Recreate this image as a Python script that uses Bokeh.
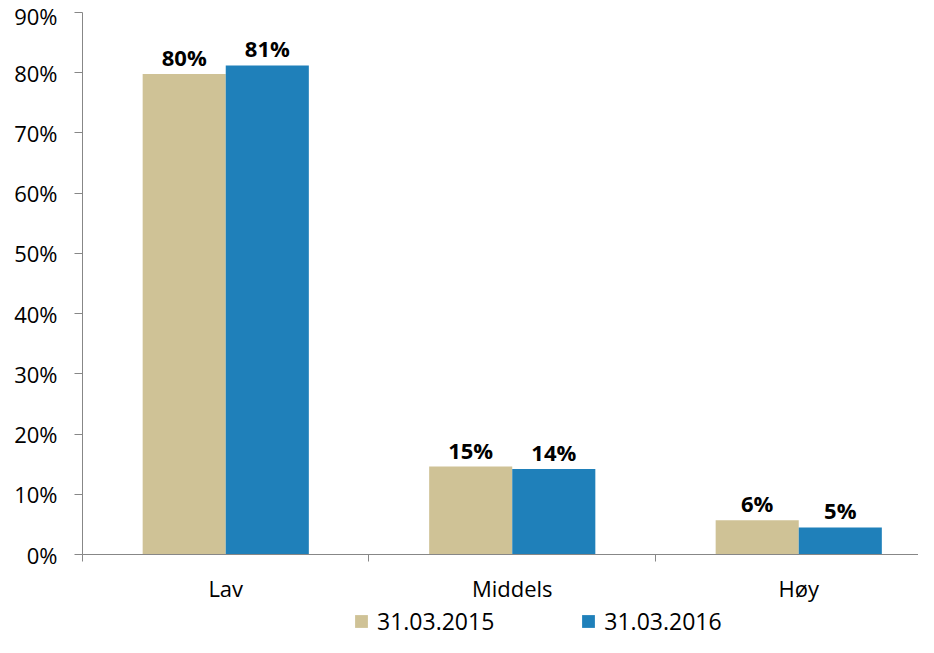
from bokeh.plotting import figure
from bokeh.layouts import column
from bokeh.models import Range1d, FixedTicker, NumeralTickFormatter, Legend, LegendItem, ColumnDataSource
from bokeh.transform import dodge
from bokeh.core.properties import value
from bokeh.embed import file_html
from bokeh.resources import INLINE

categories = ["Lav", "Middels", "Høy"]
series_names = ["31.03.2015", "31.03.2016"]
values_2015 = [0.798, 0.146, 0.057]
values_2016 = [0.812, 0.142, 0.045]
labels_2015 = ["80%", "15%", "6%"]
labels_2016 = ["81%", "14%", "5%"]
y_ticks = [0.0, 0.1, 0.2, 0.3, 0.4, 0.5, 0.6, 0.7, 0.8, 0.9]

COL_2015 = "#CFC296"
COL_2016 = "#1F80BA"
AXIS_COL = "#878787"
FONT = "Open Sans"

centers = [i + 0.5 for i in range(len(categories))]
boundaries = [float(i) for i in range(len(categories) + 1)]

source = ColumnDataSource(dict(
    x=centers,
    v15=values_2015,
    v16=values_2016,
    l15=labels_2015,
    l16=labels_2016,
))

p = figure(
    width=918, height=605,
    x_range=Range1d(0, 2.918), y_range=Range1d(0, 0.9),
    output_backend="svg", toolbar_location=None,
    min_border_left=82, min_border_right=0, min_border_top=12, min_border_bottom=0,
)
p.outline_line_color = None
p.xgrid.visible = False
p.ygrid.visible = False
p.background_fill_color = "white"

bw = 0.29
r1 = p.vbar(x=dodge("x", -bw / 2, range=p.x_range), top="v15", width=bw, bottom=0,
            source=source, fill_color=COL_2015, line_color=None)
r2 = p.vbar(x=dodge("x", bw / 2, range=p.x_range), top="v16", width=bw, bottom=0,
            source=source, fill_color=COL_2016, line_color=None)

for off, col, lab in [(-bw / 2, "v15", "l15"), (bw / 2, "v16", "l16")]:
    p.text(x=dodge("x", off, range=p.x_range), y=col, text=lab, source=source,
           text_align="center", text_baseline="alphabetic", y_offset=-17,
           text_font=value(FONT), text_font_style="bold", text_font_size="22px",
           text_color="#000000")

# x axis
xa = p.xaxis[0]
xa.ticker = FixedTicker(ticks=centers, minor_ticks=boundaries)
xa.major_label_overrides = {c: n for c, n in zip(centers, categories)}
xa.major_tick_out = 0
xa.major_tick_in = 0
xa.minor_tick_out = 7
xa.minor_tick_in = 0
xa.axis_line_color = AXIS_COL
xa.minor_tick_line_color = AXIS_COL
xa.major_label_standoff = 11
xa.major_label_text_font = FONT
xa.major_label_text_font_size = "22px"
xa.major_label_text_color = "#000000"

# y axis
ya = p.yaxis[0]
ya.ticker = FixedTicker(ticks=y_ticks)
ya.formatter = NumeralTickFormatter(format="0%")
ya.major_tick_out = 8
ya.major_tick_in = 0
ya.minor_tick_line_color = None
ya.axis_line_color = AXIS_COL
ya.major_tick_line_color = AXIS_COL
ya.major_label_standoff = 17
ya.major_label_text_font = FONT
ya.major_label_text_font_size = "22px"
ya.major_label_text_color = "#000000"

# legend strip under the chart (swatch glyphs sit outside its visible range)
lf = figure(
    width=918, height=32,
    x_range=Range1d(0, 1), y_range=Range1d(0, 1),
    output_backend="svg", toolbar_location=None,
    x_axis_location=None, y_axis_location=None, min_border=0,
)
lf.outline_line_color = None
lf.xgrid.visible = False
lf.ygrid.visible = False
k1 = lf.vbar(x=[5.0], top=[1.0], width=0.1, fill_color=COL_2015, line_color=None)
k2 = lf.vbar(x=[6.0], top=[1.0], width=0.1, fill_color=COL_2016, line_color=None)

legend = Legend(
    items=[LegendItem(label=series_names[0], renderers=[k1]),
           LegendItem(label=series_names[1], renderers=[k2])],
    orientation="horizontal",
    location=(271, 0),
    glyph_width=16, glyph_height=16, label_height=16,
    label_standoff=8, spacing=86, padding=0, margin=0,
    border_line_color=None, background_fill_alpha=0,
    label_text_font=FONT, label_text_font_size="23px", label_text_color="#000000",
)
lf.add_layout(legend)

layout = column(p, lf, spacing=0)
open("out.html", "w").write(file_html(layout, INLINE))
